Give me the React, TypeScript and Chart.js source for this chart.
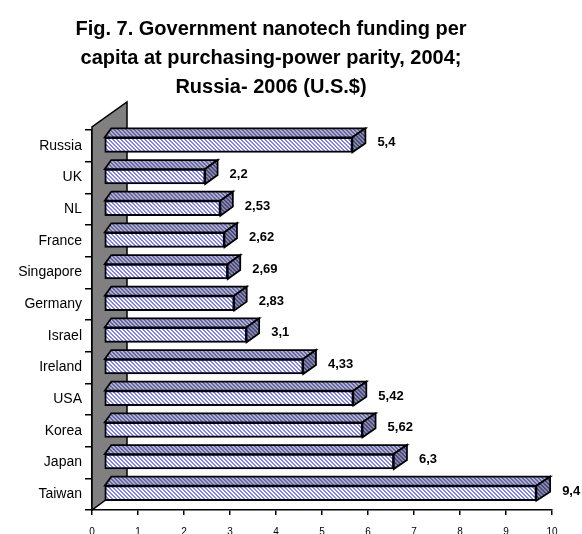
import React, { useEffect, useRef } from "react";
import { Chart, registerables } from "chart.js";
Chart.register(...registerables);

const countries = ["Russia", "UK", "NL", "France", "Singapore", "Germany", "Israel", "Ireland", "USA", "Korea", "Japan", "Taiwan"];
const funding = [5.4, 2.2, 2.53, 2.62, 2.69, 2.83, 3.1, 4.33, 5.42, 5.62, 6.3, 9.4];
const valueLabels = ["5,4", "2,2", "2,53", "2,62", "2,69", "2,83", "3,1", "4,33", "5,42", "5,62", "6,3", "9,4"];
const xMin = 0;
const xMax = 10;
const titleLines = [
  "Fig. 7. Government nanotech funding per",
  "capita at purchasing-power parity, 2004;",
  "Russia- 2006 (U.S.$)",
];

const FONT = "'Liberation Sans', Arial, Helvetica, sans-serif";
const DX = 12; // depth shift of the bars' front face
const DY = -1;

function makeHatch(ctx: CanvasRenderingContext2D, fg: string, bg: string) {
  const c = document.createElement("canvas");
  c.width = 8;
  c.height = 8;
  const g = c.getContext("2d")!;
  g.fillStyle = bg;
  g.fillRect(0, 0, 8, 8);
  g.fillStyle = fg;
  for (let y = 0; y < 8; y++)
    for (let x = 0; x < 8; x++)
      if ((((x - y) % 4) + 4) % 4 < 2) g.fillRect(x, y, 1, 1);
  return ctx.createPattern(c, "repeat")!;
}

export default function App() {
  const ref = useRef<HTMLCanvasElement>(null);
  useEffect(() => {
    const canvas = ref.current!;
    const ctx = canvas.getContext("2d")!;
    const frontPat = makeHatch(ctx, "#8080ff", "#ffffff");
    const topPat = makeHatch(ctx, "#68689e", "#b0b0d4");
    const sidePat = makeHatch(ctx, "#4a4a7c", "#8888ae");

    const depthPlugin = {
      id: "depth3d",
      beforeDatasetsDraw(chart: any) {
        const c = chart.ctx as CanvasRenderingContext2D;
        const a = chart.chartArea;
        c.save();
        // side wall
        c.fillStyle = "#808080";
        c.strokeStyle = "#000";
        c.lineWidth = 1.5;
        c.lineJoin = "miter";
        c.beginPath();
        c.moveTo(a.left, a.bottom);
        c.lineTo(a.left, a.top - 3);
        c.lineTo(a.left + 35, a.top - 28);
        c.lineTo(a.left + 35, a.bottom - 26);
        c.closePath();
        c.fill();
        c.stroke();
        // top and side faces of bars
        c.lineWidth = 1.75;
        const meta = chart.getDatasetMeta(0);
        meta.data.forEach((bar: any) => {
          const p = bar.getProps(["x", "y", "base", "height"], true);
          const x0 = p.base + DX;
          const x1 = p.x + DX;
          const yT = p.y - p.height / 2 + DY;
          const yB = p.y + p.height / 2 + DY;
          const dxR = 12 + (x1 - 104) * 0.004;
          const dxL = 6.5;
          const dy = -9;
          c.beginPath();
          c.moveTo(x0, yT);
          c.lineTo(x0 + dxL, yT + dy);
          c.lineTo(x1 + dxR, yT + dy);
          c.lineTo(x1, yT);
          c.closePath();
          c.fillStyle = topPat;
          c.fill();
          c.stroke();
          c.beginPath();
          c.moveTo(x1, yT);
          c.lineTo(x1 + dxR, yT + dy);
          c.lineTo(x1 + dxR, yB + dy);
          c.lineTo(x1, yB);
          c.closePath();
          c.fillStyle = sidePat;
          c.fill();
          c.stroke();
        });
        c.restore();
        c.save();
        c.translate(DX, DY);
      },
      afterDatasetsDraw(chart: any) {
        const c = chart.ctx as CanvasRenderingContext2D;
        c.restore();
        const meta = chart.getDatasetMeta(0);
        c.save();
        c.fillStyle = "#000";
        c.font = `bold 13px ${FONT}`;
        c.textAlign = "left";
        c.textBaseline = "middle";
        meta.data.forEach((bar: any, i: number) => {
          const p = bar.getProps(["x", "y"], true);
          const x1 = p.x + DX;
          const dxR = 12 + (x1 - 104) * 0.004;
          c.fillText(valueLabels[i], x1 + dxR + 12, p.y + DY - 2);
        });
        c.restore();
      },
      afterDraw(chart: any) {
        const c = chart.ctx as CanvasRenderingContext2D;
        c.save();
        c.fillStyle = "#000";
        c.font = `bold 20px ${FONT}`;
        c.textAlign = "center";
        c.textBaseline = "alphabetic";
        const base = [35, 64, 93];
        titleLines.forEach((t, i) => c.fillText(t, 271, base[i]));
        c.restore();
      },
    };

    const chart = new Chart(canvas, {
      type: "bar",
      data: {
        labels: countries,
        datasets: [
          {
            data: funding,
            backgroundColor: frontPat as any,
            borderColor: "#000",
            borderWidth: 2,
            borderSkipped: false,
            barThickness: 15,
          },
        ],
      },
      options: {
        indexAxis: "y",
        responsive: false,
        animation: false,
        devicePixelRatio: 1,
        layout: { padding: { top: 130, right: 30, left: 0, bottom: 0 } },
        plugins: {
          legend: { display: false },
          title: { display: false },
          tooltip: { enabled: false },
        },
        scales: {
          x: {
            type: "linear",
            min: xMin,
            max: xMax,
            afterFit: (s: any) => {
              s.height = 24;
            },
            ticks: {
              stepSize: 1,
              color: "#000",
              padding: 11,
              font: { family: FONT, size: 10 },
            },
            grid: {
              drawOnChartArea: false,
              drawTicks: true,
              tickLength: 5,
              color: "#000",
              lineWidth: 1.5,
            },
            border: { display: true, color: "#000", width: 1.5 },
          },
          y: {
            type: "category",
            afterFit: (s: any) => {
              s.width = 92;
            },
            ticks: {
              color: "#000",
              padding: 3,
              font: { family: FONT, size: 14 },
            },
            grid: {
              offset: true,
              drawOnChartArea: false,
              drawTicks: true,
              tickLength: 7,
              color: "#000",
              lineWidth: 1.5,
            },
            border: { display: true, color: "#000", width: 1.5 },
          },
        },
      },
      plugins: [depthPlugin],
    } as any);
    return () => chart.destroy();
  }, []);

  return (
    <div style={{ position: "absolute", left: 0, top: 0, width: 582, height: 534, background: "#fff" }}>
      <canvas ref={ref} width={582} height={534} style={{ width: 582, height: 534, display: "block" }} />
    </div>
  );
}
